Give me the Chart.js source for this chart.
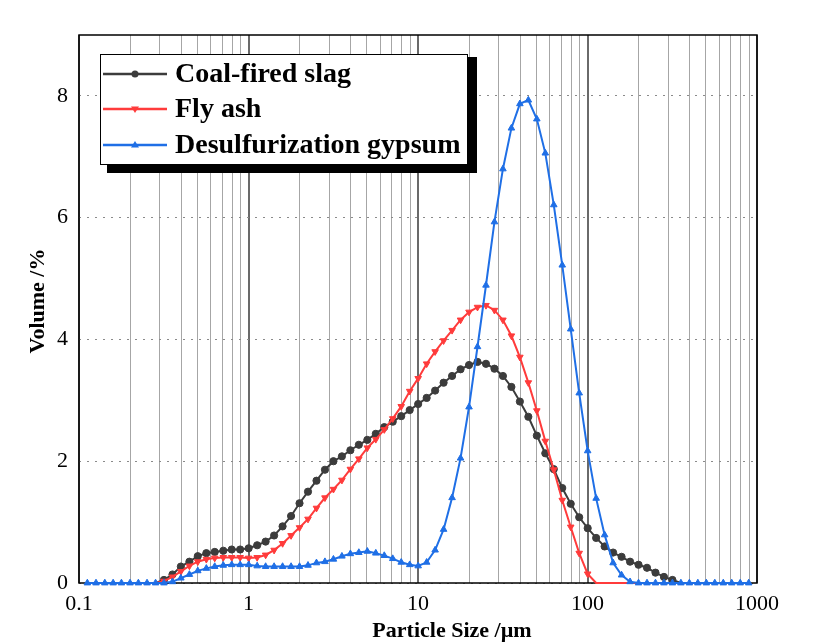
<!DOCTYPE html>
<html>
<head>
<meta charset="utf-8">
<script src="https://cdn.jsdelivr.net/npm/chart.js@4.4.0/dist/chart.umd.min.js"></script>
<style>
  html, body { margin: 0; padding: 0; background: #fff; }
  #wrap { width: 816px; height: 644px; }
</style>
</head>
<body>
<div id="wrap"><canvas id="chart" width="816" height="644"></canvas></div>
<script>
// particle size bins (µm)
const particleSize = [
  0.112, 0.126, 0.142, 0.159, 0.178, 0.200, 0.224, 0.252, 0.283, 0.317,
  0.356, 0.399, 0.448, 0.502, 0.564, 0.632, 0.710, 0.796, 0.893, 1.002,
  1.125, 1.262, 1.416, 1.589, 1.783, 2.000, 2.244, 2.518, 2.825, 3.170,
  3.557, 3.991, 4.477, 5.024, 5.637, 6.325, 7.096, 7.962, 8.934, 10.024,
  11.247, 12.619, 14.159, 15.887, 17.825, 20.000, 22.440, 25.179, 28.251, 31.698,
  35.566, 39.905, 44.774, 50.238, 56.368, 63.246, 70.963, 79.621, 89.337, 100.237,
  112.468, 126.191, 141.589, 158.866, 178.250, 200.000, 224.404, 251.785, 282.508, 316.979,
  355.656, 399.052, 447.744, 502.377, 563.677, 632.456, 709.627, 796.214, 893.367
];

const coalSlag = [
  0, 0, 0, 0, 0, 0, 0, 0, 0, 0.05,
  0.14, 0.27, 0.35, 0.44, 0.49, 0.51, 0.53, 0.55, 0.55, 0.57,
  0.62, 0.68, 0.78, 0.93, 1.10, 1.31, 1.50, 1.68, 1.86, 2.00,
  2.08, 2.18, 2.27, 2.35, 2.45, 2.56, 2.65, 2.74, 2.84, 2.94,
  3.04, 3.16, 3.29, 3.40, 3.51, 3.58, 3.63, 3.60, 3.52, 3.40,
  3.22, 2.98, 2.73, 2.42, 2.13, 1.87, 1.56, 1.30, 1.08, 0.90,
  0.74, 0.60, 0.50, 0.43, 0.35, 0.30, 0.25, 0.17, 0.10, 0.05,
  0, 0, 0, 0, 0, 0, 0, 0, 0
];

const flyAsh = [
  0, 0, 0, 0, 0, 0, 0, 0, 0, 0.03,
  0.10, 0.19, 0.28, 0.35, 0.39, 0.41, 0.42, 0.42, 0.42, 0.41,
  0.42, 0.46, 0.54, 0.65, 0.78, 0.91, 1.05, 1.23, 1.40, 1.54,
  1.69, 1.87, 2.04, 2.22, 2.36, 2.52, 2.70, 2.90, 3.15, 3.36,
  3.60, 3.80, 3.98, 4.15, 4.32, 4.45, 4.53, 4.56, 4.48, 4.32,
  4.06, 3.71, 3.29, 2.83, 2.33, 1.86, 1.36, 0.92, 0.49, 0.15,
  0, 0, 0, 0, 0, 0, 0, 0, 0, 0,
  0, 0, 0, 0, 0, 0, 0, 0, 0
];

const gypsum = [
  0, 0, 0, 0, 0, 0, 0, 0, 0, 0,
  0.02, 0.08, 0.14, 0.20, 0.24, 0.27, 0.29, 0.30, 0.30, 0.30,
  0.28, 0.27, 0.27, 0.27, 0.27, 0.27, 0.29, 0.33, 0.35, 0.39,
  0.44, 0.48, 0.50, 0.52, 0.49, 0.45, 0.40, 0.34, 0.30, 0.28,
  0.34, 0.54, 0.88, 1.40, 2.05, 2.89, 3.88, 4.89, 5.93, 6.80,
  7.47, 7.87, 7.93, 7.62, 7.06, 6.21, 5.22, 4.17, 3.12, 2.17,
  1.39, 0.79, 0.33, 0.13, 0.02, 0, 0, 0, 0, 0,
  0, 0, 0, 0, 0, 0, 0, 0, 0
];

const seriesNames = ['Coal-fired slag', 'Fly ash', 'Desulfurization gypsum'];
const xTickLabels = ['0.1', '1', '10', '100', '1000'];
const yTickValues = [0, 2, 4, 6, 8];

const colors = ['#3c3c3c', '#ff3b3b', '#1f6fe6'];
const FONT = "'Liberation Serif', 'Times New Roman', serif";

function isDecade(v) {
  const l = Math.log10(v);
  return Math.abs(l - Math.round(l)) < 1e-6;
}

function toPoints(arr) {
  return particleSize.map((x, i) => ({ x: x, y: arr[i] }));
}

// hide markers sitting on the zero line (only blue shows them there)
const hideZero = r => ctx => (ctx.raw && ctx.raw.y === 0) ? 0 : r;

const overlay = {
  id: 'overlay',
  beforeDatasetsDraw(chart) {
    const { ctx, chartArea: a } = chart;
    ctx.save();
    ctx.strokeStyle = '#000';
    ctx.lineWidth = 1.5;
    ctx.strokeRect(a.left, a.top, a.right - a.left, a.bottom - a.top);
    ctx.restore();
  },
  afterDraw(chart) {
    const ctx = chart.ctx;
    ctx.save();

    // legend with drop shadow
    ctx.fillStyle = '#000';
    ctx.fillRect(107, 57, 370, 116);
    ctx.fillStyle = '#fff';
    ctx.fillRect(100, 54, 367, 110);
    ctx.strokeStyle = '#000';
    ctx.lineWidth = 1;
    ctx.strokeRect(100.5, 54.5, 367, 110);

    const rows = [74, 109, 145];
    seriesNames.forEach((name, i) => {
      const y = rows[i];
      ctx.strokeStyle = colors[i];
      ctx.lineWidth = 2.5;
      ctx.beginPath();
      ctx.moveTo(103, y);
      ctx.lineTo(167, y);
      ctx.stroke();
      ctx.fillStyle = colors[i];
      ctx.beginPath();
      if (i === 0) {
        ctx.arc(135, y, 3.5, 0, Math.PI * 2);
      } else if (i === 1) {
        ctx.moveTo(131, y - 2.5); ctx.lineTo(139, y - 2.5); ctx.lineTo(135, y + 4);
      } else {
        ctx.moveTo(131, y + 2.5); ctx.lineTo(139, y + 2.5); ctx.lineTo(135, y - 4);
      }
      ctx.closePath();
      ctx.fill();

      ctx.fillStyle = '#000';
      ctx.font = 'bold 28px ' + FONT;
      ctx.textAlign = 'left';
      ctx.textBaseline = 'middle';
      ctx.fillText(name, 175, y + 1);
    });

    // axis titles
    ctx.fillStyle = '#000';
    ctx.font = 'bold 22px ' + FONT;
    ctx.textAlign = 'center';
    ctx.textBaseline = 'middle';
    ctx.fillText('Particle Size /\u00b5m', 452, 631);
    ctx.translate(38, 301);
    ctx.rotate(-Math.PI / 2);
    ctx.fillText('Volume /%', 0, 0);
    ctx.restore();
  }
};

new Chart(document.getElementById('chart'), {
  type: 'line',
  data: {
    datasets: [
      {
        label: seriesNames[0],
        data: toPoints(coalSlag),
        borderColor: colors[0],
        backgroundColor: colors[0],
        borderWidth: 2,
        pointStyle: 'circle',
        pointRadius: hideZero(3.6),
        pointBorderWidth: 1,
        clip: false,
        order: 3
      },
      {
        label: seriesNames[1],
        data: toPoints(flyAsh),
        borderColor: colors[1],
        backgroundColor: colors[1],
        borderWidth: 2,
        pointStyle: 'triangle',
        rotation: 180,
        pointRadius: hideZero(3.8),
        pointBorderWidth: 1,
        clip: false,
        order: 2
      },
      {
        label: seriesNames[2],
        data: toPoints(gypsum),
        borderColor: colors[2],
        backgroundColor: colors[2],
        borderWidth: 2,
        pointStyle: 'triangle',
        pointRadius: 3.8,
        pointBorderWidth: 1,
        clip: false,
        order: 1
      }
    ]
  },
  options: {
    responsive: false,
    animation: false,
    devicePixelRatio: 1,
    layout: { padding: { top: 35, right: 59, left: 0, bottom: 0 } },
    plugins: { legend: { display: false }, tooltip: { enabled: false } },
    elements: { line: { tension: 0 } },
    scales: {
      x: {
        type: 'logarithmic',
        min: 0.1,
        max: 1000,
        afterBuildTicks(scale) {
          const ticks = [];
          for (let d = -1; d < 3; d++) {
            for (let m = 1; m <= 9; m++) ticks.push({ value: m * Math.pow(10, d) });
          }
          ticks.push({ value: 1000 });
          scale.ticks = ticks;
        },
        afterFit(scale) { scale.height = 61; },
        grid: {
          drawTicks: false,
          color: ctx => (ctx.tick && isDecade(ctx.tick.value)) ? '#6a6a6a' : '#a6a6a6',
          lineWidth: ctx => (ctx.tick && isDecade(ctx.tick.value)) ? 2 : 1
        },
        border: { display: false },
        ticks: {
          autoSkip: false,
          maxRotation: 0,
          padding: 8,
          color: '#000',
          font: { family: FONT, size: 22 },
          callback(value) {
            if (!isDecade(value)) return '';
            return xTickLabels[Math.round(Math.log10(value)) + 1];
          }
        }
      },
      y: {
        type: 'linear',
        min: 0,
        max: 9,
        afterBuildTicks(scale) {
          scale.ticks = yTickValues.map(v => ({ value: v }));
        },
        afterFit(scale) { scale.width = 79; },
        grid: { drawTicks: false, color: '#8a8a8a', lineWidth: 1 },
        border: { display: false, dash: [2, 6] },
        ticks: {
          padding: 11,
          color: '#000',
          font: { family: FONT, size: 22 }
        }
      }
    }
  },
  plugins: [overlay]
});
</script>
</body>
</html>
